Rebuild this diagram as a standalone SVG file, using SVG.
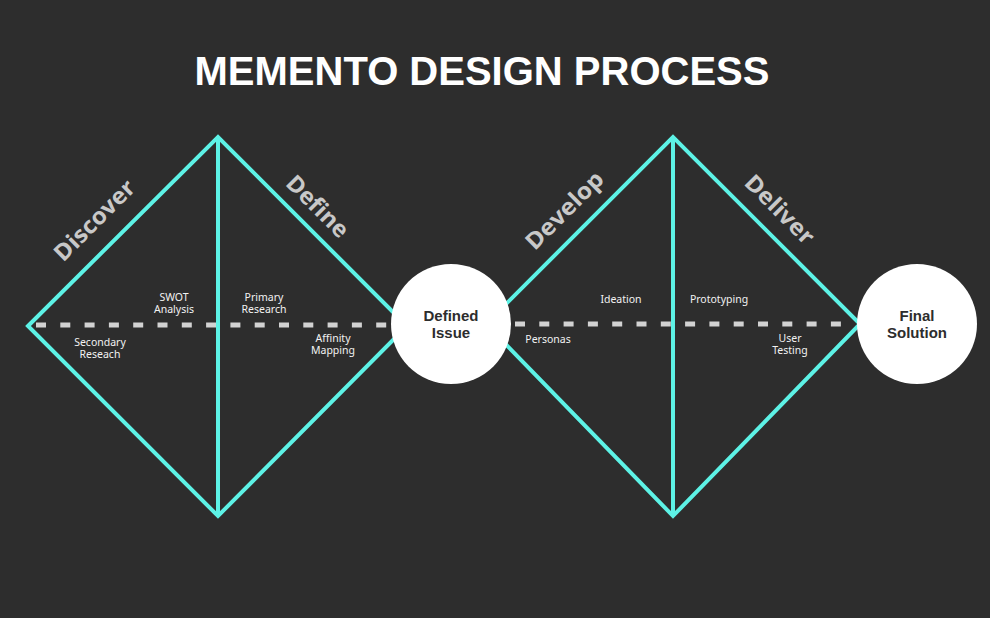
<svg xmlns="http://www.w3.org/2000/svg" width="990" height="618" viewBox="0 0 990 618">
<style>
.edge{stroke:#5df2e6;stroke-width:4;fill:none;stroke-linejoin:miter}
.dash{stroke:#d2d2d2;stroke-width:5;stroke-dasharray:10 14.3;fill:none}
.phase{font-family:"Open Sans","Liberation Sans",sans-serif;font-weight:700;font-size:23px;fill:#c8c8c8;text-anchor:middle}
.lbl{font-family:"Noto Sans","Liberation Sans",sans-serif;font-size:10.5px;fill:#f2f2f2;text-anchor:middle}
.hub{fill:#ffffff}
.hubtxt{font-family:"Liberation Sans",Arial,sans-serif;font-weight:700;font-size:15px;fill:#2d2d2d;text-anchor:middle}
.title{font-family:"Liberation Sans",Arial,sans-serif;font-weight:700;font-size:40px;fill:#ffffff;text-anchor:middle}
</style>
<rect width="990" height="618" fill="#2d2d2d"/>
<text class="title" x="482" y="85">MEMENTO DESIGN PROCESS</text>
<g id="connectors">
<line class="dash" x1="36" y1="325" x2="392" y2="325"/>
<line class="dash" x1="515" y1="324" x2="855" y2="324"/>
</g>
<g id="diamond-left">
<polygon class="edge" points="28,326 218,137 407,326 218,516"/>
<line class="edge" x1="218" y1="137" x2="218" y2="516"/>
</g>
<g id="diamond-right">
<polygon class="edge" points="486,324 673,137 860,324 673,516"/>
<line class="edge" x1="673" y1="137" x2="673" y2="516"/>
</g>
<g id="phase-labels">
<text class="phase" transform="translate(100,226) rotate(-45)" textLength="104" lengthAdjust="spacingAndGlyphs">Discover</text>
<text class="phase" transform="translate(312,212) rotate(45)" textLength="78" lengthAdjust="spacingAndGlyphs">Define</text>
<text class="phase" transform="translate(570,216) rotate(-45)" textLength="100" lengthAdjust="spacingAndGlyphs">Develop</text>
<text class="phase" transform="translate(774,215) rotate(45)" textLength="88" lengthAdjust="spacingAndGlyphs">Deliver</text>
</g>
<g id="activity-labels">
<text class="lbl" x="174" y="300.5">SWOT</text>
<text class="lbl" x="174" y="313">Analysis</text>
<text class="lbl" x="264" y="300.5">Primary</text>
<text class="lbl" x="264" y="313">Research</text>
<text class="lbl" x="100" y="345.5">Secondary</text>
<text class="lbl" x="100" y="358">Reseach</text>
<text class="lbl" x="333" y="341.5">Affinity</text>
<text class="lbl" x="333" y="354">Mapping</text>
<text class="lbl" x="621" y="303">Ideation</text>
<text class="lbl" x="548" y="343">Personas</text>
<text class="lbl" x="719" y="303">Prototyping</text>
<text class="lbl" x="790" y="341.5">User</text>
<text class="lbl" x="790" y="354">Testing</text>
</g>
<g id="node-defined-issue">
<circle class="hub" cx="451" cy="324" r="60"/>
<text class="hubtxt" x="451" y="321">Defined</text>
<text class="hubtxt" x="451" y="338">Issue</text>
</g>
<g id="node-final-solution">
<circle class="hub" cx="917" cy="324" r="60"/>
<text class="hubtxt" x="917" y="321">Final</text>
<text class="hubtxt" x="917" y="338">Solution</text>
</g>
</svg>
